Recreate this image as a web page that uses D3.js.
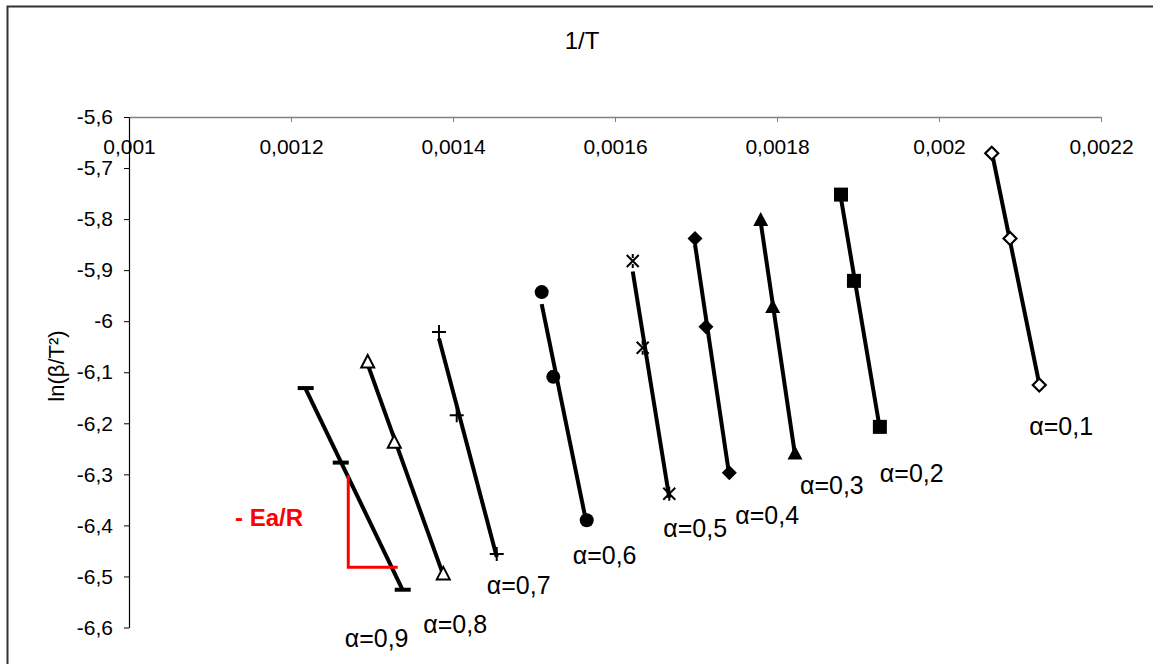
<!DOCTYPE html>
<html>
<head>
<meta charset="utf-8">
<script src="https://cdn.jsdelivr.net/npm/d3@7"></script>
<style>
  body { margin: 0; background: #fff; }
  svg { font-family: "Liberation Sans", Arial, sans-serif; }
</style>
</head>
<body>
<script>
// series: 1/T and ln(beta/T^2) for each conversion
var seriesNames = ["α=0,1", "α=0,2", "α=0,3", "α=0,4", "α=0,5", "α=0,6", "α=0,7", "α=0,8", "α=0,9"];
var markerTypes = ["openDiamond", "square", "triangle", "diamond", "star", "circle", "plus", "openTriangle", "dash"];

var invT01 = [0.0020651, 0.0020877, 0.0021238];
var lnB01  = [-5.671, -5.838, -6.125];
var invT02 = [0.001879, 0.001895, 0.001927];
var lnB02  = [-5.752, -5.921, -6.207];
var invT03 = [0.0017799, 0.0017947, 0.0018222];
var lnB03  = [-5.802, -5.972, -6.259];
var invT04 = [0.0016988, 0.0017123, 0.0017411];
var lnB04  = [-5.838, -6.011, -6.297];
var invT05 = [0.0016219, 0.0016342, 0.001667];
var lnB05  = [-5.882, -6.052, -6.338];
var invT06 = [0.0015095, 0.0015238, 0.0015651];
var lnB06  = [-5.943, -6.109, -6.390];
var invT07 = [0.0013827, 0.0014046, 0.001454];
var lnB07  = [-6.021, -6.184, -6.456];
var invT08 = [0.0012947, 0.0013275, 0.001388];
var lnB08  = [-6.080, -6.237, -6.495];
var invT09 = [0.0012181, 0.0012614, 0.0013379];
var lnB09  = [-6.131, -6.277, -6.526];

var xTicks = [0.001, 0.0012, 0.0014, 0.0016, 0.0018, 0.002, 0.0022];
var xTickLabels = ["0,001", "0,0012", "0,0014", "0,0016", "0,0018", "0,002", "0,0022"];
var yTicks = [-5.6, -5.7, -5.8, -5.9, -6, -6.1, -6.2, -6.3, -6.4, -6.5, -6.6];
var yTickLabels = ["-5,6", "-5,7", "-5,8", "-5,9", "-6", "-6,1", "-6,2", "-6,3", "-6,4", "-6,5", "-6,6"];

// slope triangle drawn on the alpha=0,9 line (data units)
var slopeX = [0.0012707, 0.0012707, 0.0013317];
var slopeY = [-6.302, -6.482, -6.482];
var slopeText = "- Ea/R";

var allX = [invT01, invT02, invT03, invT04, invT05, invT06, invT07, invT08, invT09];
var allY = [lnB01, lnB02, lnB03, lnB04, lnB05, lnB06, lnB07, lnB08, lnB09];

var data = seriesNames.map(function(name, i){
    return {
        name: name,
        marker: markerTypes[i],
        points: allX[i].map(function(v, j){ return {x: v, y: allY[i][j]}; })
    };
});

var width = 1153, height = 664;

var svg = d3.select('body').append('svg')
        .attr('width', width)
        .attr('height', height);

// chart border
svg.append('rect')
    .attr('x', 7.5).attr('y', 6.5)
    .attr('width', width + 20).attr('height', height + 20)
    .attr('fill', 'none')
    .attr('stroke', '#333')
    .attr('stroke-width', 2);

var x = d3.scaleLinear()
    .domain([0.001, 0.0022])
    .range([129, 1101]);

var y = d3.scaleLinear()
    .domain([-5.6, -6.6])
    .range([117, 627.5]);

var xAxis = d3.axisBottom(x)
    .tickValues(xTicks)
    .tickFormat(function(d, i){ return xTickLabels[i]; })
    .tickSizeInner(5).tickSizeOuter(0)
    .tickPadding(17);

var yAxis = d3.axisLeft(y)
    .tickValues(yTicks)
    .tickFormat(function(d, i){ return yTickLabels[i]; })
    .tickSizeInner(5).tickSizeOuter(0)
    .tickPadding(11);

var gx = svg.append('g')
    .attr('class', 'x axis')
    .attr('transform', 'translate(0,' + y(-5.6) + ')')
    .call(xAxis);
gx.select('.domain').attr('stroke', '#808080').attr('stroke-width', 1.5);
gx.selectAll('.tick line').attr('stroke', '#808080');
gx.selectAll('text').attr('font-size', 21).attr('fill', '#000')
    .attr('font-family', '"Liberation Sans", Arial, sans-serif');

var gy = svg.append('g')
    .attr('class', 'y axis')
    .attr('transform', 'translate(' + x(0.001) + ',0)')
    .call(yAxis);
gy.select('.domain').attr('stroke', '#000').attr('stroke-width', 1.2);
gy.selectAll('.tick line').attr('stroke', '#000');
gy.selectAll('text').attr('font-size', 21).attr('fill', '#000')
    .attr('font-family', '"Liberation Sans", Arial, sans-serif');

// titles
svg.append('text')
    .attr('x', 582).attr('y', 49)
    .attr('text-anchor', 'middle')
    .attr('font-size', 24)
    .text('1/T');

svg.append('text')
    .attr('transform', 'translate(64,366) rotate(-90)')
    .attr('text-anchor', 'middle')
    .attr('font-size', 22)
    .text('ln(β/T²)');

// least squares trend line of each series
function fit(pts){
    var mx = d3.mean(pts, function(d){ return d.x; });
    var my = d3.mean(pts, function(d){ return d.y; });
    var sxy = d3.sum(pts, function(d){ return (d.x - mx) * (d.y - my); });
    var sxx = d3.sum(pts, function(d){ return (d.x - mx) * (d.x - mx); });
    var b = sxy / sxx;
    var a = my - b * mx;
    var x0 = d3.min(pts, function(d){ return d.x; });
    var x1 = d3.max(pts, function(d){ return d.x; });
    return [{x: x0, y: a + b * x0}, {x: x1, y: a + b * x1}];
}

var line = d3.line()
    .x(function(d){ return x(d.x); })
    .y(function(d){ return y(d.y); });

var groups = svg.selectAll('.series')
    .data(data)
    .enter().append('g')
    .attr('class', 'series');

groups.append('path')
    .attr('d', function(d){ return line(fit(d.points)); })
    .attr('fill', 'none')
    .attr('stroke', '#000')
    .attr('stroke-width', 4);

// marker shapes
var markerPath = {
    openDiamond: 'M0,-6.5L6.5,0L0,6.5L-6.5,0Z',
    diamond: 'M0,-7.5L7.5,0L0,7.5L-7.5,0Z',
    square: 'M-7,-7H7V7H-7Z',
    triangle: 'M0,-8L7.5,6H-7.5Z',
    openTriangle: 'M0,-7L6.5,5.5H-6.5Z',
    circle: 'M7,0A7,7 0 1,1 -7,0A7,7 0 1,1 7,0Z',
    plus: 'M-7,0H7M0,-7V7',
    star: 'M-6,-6L6,6M6,-6L-6,6M0,-7V-3M0,3V7',
    dash: 'M-8,0H8'
};
var markerFill = {openDiamond: '#fff', openTriangle: '#fff', diamond: '#000', square: '#000',
    triangle: '#000', circle: '#000', plus: 'none', star: 'none', dash: 'none'};
var markerStroke = {openDiamond: 2.2, openTriangle: 2, diamond: 0, square: 0,
    triangle: 0, circle: 0, plus: 2, star: 2, dash: 4};

groups.each(function(s){
    d3.select(this).selectAll('.pt')
        .data(s.points)
        .enter().append('path')
        .attr('class', 'pt')
        .attr('transform', function(d){ return 'translate(' + x(d.x) + ',' + y(d.y) + ')'; })
        .attr('d', markerPath[s.marker])
        .attr('fill', markerFill[s.marker])
        .attr('stroke', markerStroke[s.marker] ? '#000' : 'none')
        .attr('stroke-width', markerStroke[s.marker]);
});

// series labels below the last point
var labelOffset = [[-10, 50], [0, 55], [5, 41], [6, 51], [-6, 43], [-14, 44], [-10, 40], [-20, 59], [-58, 57]];
groups.append('text')
    .attr('x', function(d, i){ return x(d.points[2].x) + labelOffset[i][0]; })
    .attr('y', function(d, i){ return y(d.points[2].y) + labelOffset[i][1]; })
    .attr('font-size', 25)
    .text(function(d){ return d.name; });

// slope annotation
svg.append('path')
    .attr('d', line(slopeX.map(function(v, i){ return {x: v, y: slopeY[i]}; })))
    .attr('fill', 'none')
    .attr('stroke', '#ff0000')
    .attr('stroke-width', 3);

svg.append('text')
    .attr('x', x(0.0011309)).attr('y', y(-6.402))
    .attr('font-size', 24)
    .attr('font-weight', 'bold')
    .attr('fill', '#ff0000')
    .attr('xml:space', 'preserve')
    .text(slopeText);
</script>
</body>
</html>
